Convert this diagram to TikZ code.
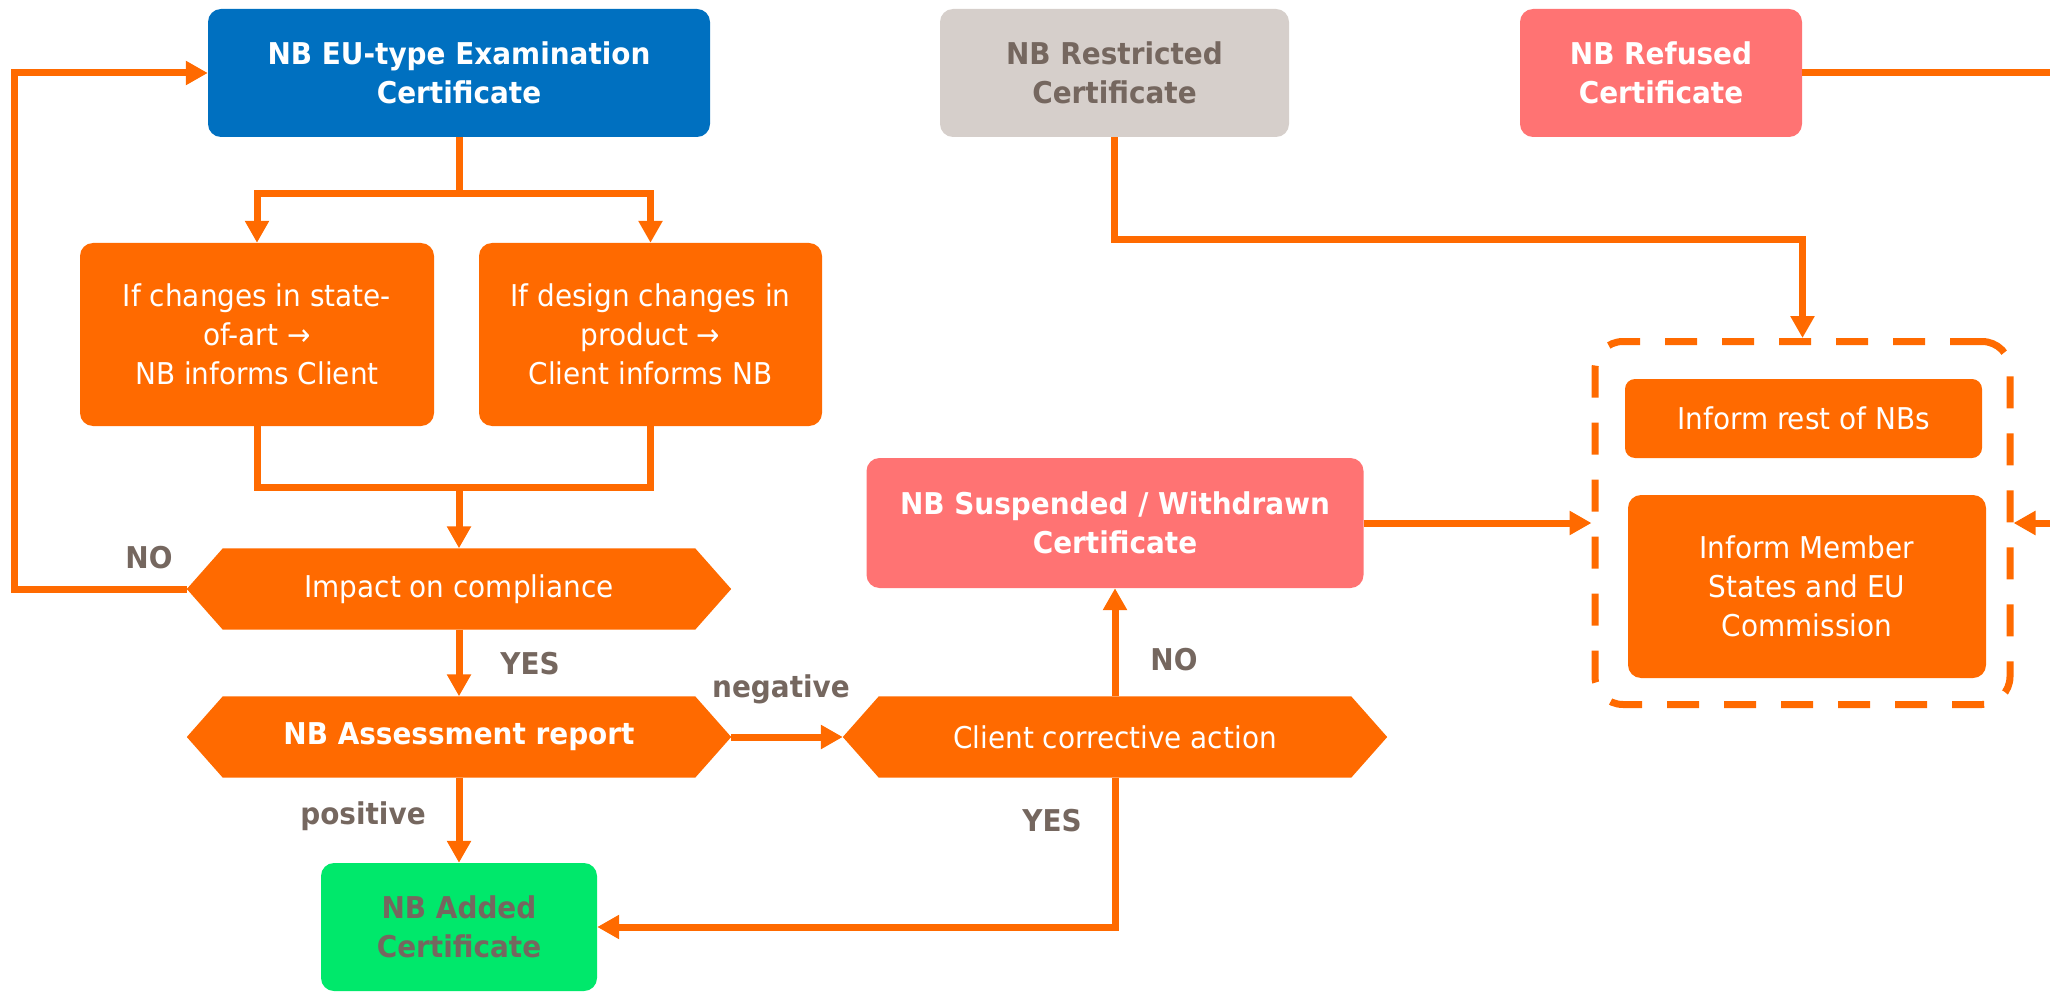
\documentclass[tikz,border=0pt]{standalone}
\usepackage{fontspec}
\setmainfont{DejaVu Sans}[FakeStretch=0.93]
\usetikzlibrary{arrows.meta,calc}
\definecolor{cBlue}{HTML}{0070C0}
\definecolor{cOrange}{HTML}{FF6A00}
\definecolor{cGrey}{HTML}{D6CFCB}
\definecolor{cPink}{HTML}{FF7373}
\definecolor{cGreen}{HTML}{00E86B}
\definecolor{cText}{HTML}{75675F}
\pgfdeclarelayer{bg}
\pgfsetlayers{bg,main}

\begin{document}
\begin{tikzpicture}[x=1pt,y=-1pt,
  card/.style={rectangle, rounded corners=13pt, inner sep=0pt, align=center,
    text=white, font=\fontsize{30}{39}\selectfont},
  title/.style={card, font=\fontsize{30}{39}\selectfont\bfseries},
  flat/.style={rectangle, inner sep=0pt, minimum width=472pt, minimum height=81pt,
    align=center, text=white, font=\fontsize{30}{39}\selectfont},
  link/.style={draw=cOrange, line width=7pt},
  arr/.style={link, -{Triangle[length=22pt,width=23pt]}},
  lbl/.style={text=cText, font=\fontsize{30}{36}\selectfont\bfseries, inner sep=0pt},
]
\path[use as bounding box] (0,0) rectangle (2050,992);

% certificate boxes
\node[title, fill=cBlue, minimum width=502pt, minimum height=128pt] (cert) at (459,73)
  {NB EU-type Examination\\Certificate};
\node[title, fill=cGrey, text=cText, minimum width=349pt, minimum height=128pt] (restr) at (1114.5,73)
  {NB Restricted\\Certificate};
\node[title, fill=cPink, minimum width=282pt, minimum height=128pt] (refused) at (1661,73)
  {NB Refused\\Certificate};
\node[title, fill=cPink, minimum width=497pt, minimum height=130pt] (susp) at (1115,523)
  {NB Suspended / Withdrawn\\Certificate};
\node[title, fill=cGreen, text=cText, minimum width=276pt, minimum height=128pt] (added) at (459,927)
  {NB Added\\Certificate};

% change triggers
\node[card, fill=cOrange, minimum width=354pt, minimum height=183pt] (stateart) at (257,334.5)
  {If changes in state-\\of-art →\\NB informs Client};
\node[card, fill=cOrange, minimum width=343pt, minimum height=183pt] (design) at (650.5,334.5)
  {If design changes in\\product →\\Client informs NB};

% decision steps (hexagons drawn behind)
\node[flat] (impact) at (459,589) {Impact on compliance};
\node[flat, font=\fontsize{30}{39}\selectfont\bfseries] (assess) at (459,737) {NB Assessment report};
\node[flat] (client) at (1115,737) {Client corrective action};
\foreach \n in {impact,assess,client}{
  \coordinate (\n-l) at ($(\n.west)+(-36,0)$);
  \coordinate (\n-r) at ($(\n.east)+(36,0)$);
}
\begin{pgfonlayer}{bg}
  \foreach \n in {impact,assess,client}{
    \fill[cOrange] (\n.north west) -- (\n.north east) -- (\n-r) -- (\n.south east)
      -- (\n.south west) -- (\n-l) -- cycle;
  }
\end{pgfonlayer}

% notification group
\node[card, fill=cOrange, rounded corners=10pt, minimum width=357pt, minimum height=79pt] (nbs) at (1803.5,418.5)
  {Inform rest of NBs};
\node[card, fill=cOrange, minimum width=358pt, minimum height=183pt] (ms) at (1807,586.5)
  {Inform Member\\States and EU\\Commission};
\node[draw=cOrange, line width=7pt, dash pattern=on 32pt off 25pt, rounded corners=28pt,
  minimum width=415pt, minimum height=363pt, inner sep=0pt] (grp) at (1802.5,523) {};

% connectors
\coordinate (edgeA) at (2050,73);
\coordinate (edgeB) at (2050,523);
\coordinate (merge) at (459,487);
\draw[link] (refused.east) -- (edgeA);
\draw[arr] (edgeB) -- (grp.east);
\draw[arr] (impact-l) -- ++(-172,0) |- (cert.west);
\draw[link] (cert.south) -- ++(0,56) coordinate (split);
\draw[arr] (split) -| (stateart.north);
\draw[arr] (split) -| (design.north);
\draw[link] (stateart.south) |- (merge) -| (design.south);
\draw[arr] (merge) -- (impact.north);
\draw[arr] (impact.south) -- (assess.north);
\draw[arr] (assess-r) -- (client-l);
\draw[arr] (assess.south) -- (added.north);
\draw[arr] (client.north) -- (susp.south);
\draw[arr] (client.south) |- (added.east);
\draw[arr] (susp.east) -- (grp.west);
\draw[arr] (restr.south) -- ++(0,102) -| (grp.north);

% branch labels
\node[lbl] (noA) at (149,558) {NO};
\node[lbl] (yesA) at (530,664) {YES};
\node[lbl] (neg) at (781,689) {negative};
\node[lbl] (pos) at (363,816) {positive};
\node[lbl] (noB) at (1174,660) {NO};
\node[lbl] (yesB) at (1052,821) {YES};
\end{tikzpicture}
\end{document}
